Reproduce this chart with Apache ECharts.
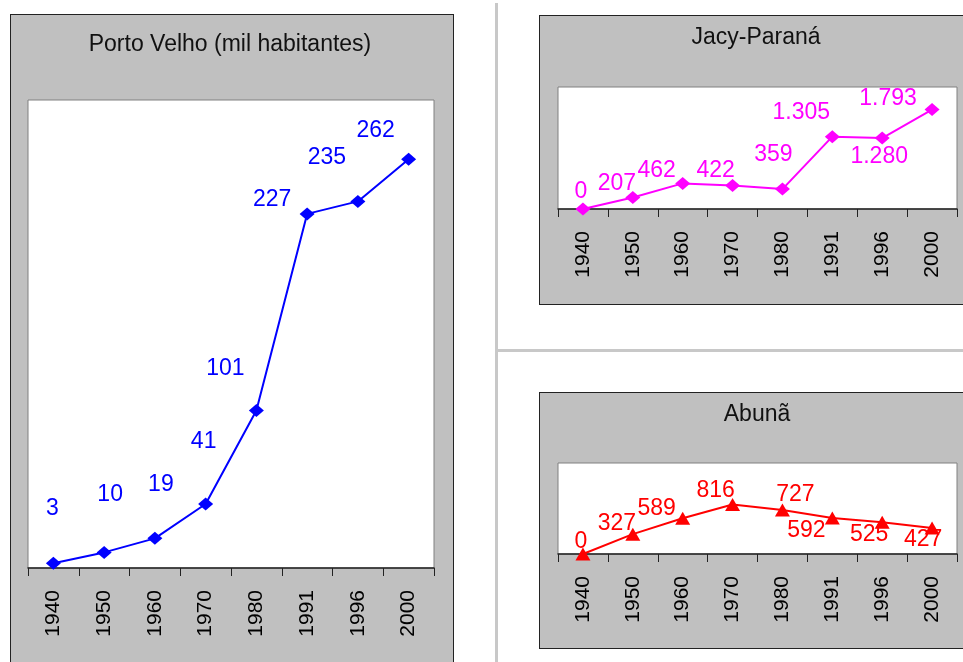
<!DOCTYPE html>
<html>
<head>
<meta charset="utf-8">
<script src="https://cdn.jsdelivr.net/npm/echarts@6/dist/echarts.min.js"></script>
<style>
  html, body { margin: 0; padding: 0; background: #fff; overflow: hidden; }
  #wrap { position: relative; width: 963px; height: 662px; }
  .panel { position: absolute; background: #c0c0c0; border: 1px solid #222; box-sizing: border-box; }
  .sep { position: absolute; background: #c8c8c8; }
  #chart { position: absolute; left: 0; top: 0; width: 963px; height: 662px; }
</style>
</head>
<body>
<div id="wrap">
  <div class="sep" style="left:495px;top:3px;width:3px;height:662px"></div>
  <div class="sep" style="left:498px;top:349px;width:470px;height:3px"></div>
  <div class="panel" style="left:10px;top:14px;width:444px;height:670px"></div>
  <div class="panel" style="left:539px;top:15px;width:440px;height:290px"></div>
  <div class="panel" style="left:539px;top:392px;width:440px;height:257px"></div>
  <div id="chart"></div>
</div>
<script>
// anos (eixo x, igual nos tres graficos)
var years = ["1940", "1950", "1960", "1970", "1980", "1991", "1996", "2000"];

// Porto Velho (mil habitantes)
var portoVelho = [3, 10, 19, 41, 101, 227, 235, 262];
// Jacy-Parana
var jacyParana = [0, 207, 462, 422, 359, 1305, 1280, 1793];
// Abuna
var abuna = [0, 327, 589, 816, 727, 592, 525, 427];

// deslocamento dos rotulos (como no Excel)
var pvOffsets = [[-1, -55], [6, -58], [6, -54], [-2, -62], [-31, -42], [-35, -14], [-31, -44], [-33, -29]];
var jpOffsets = [[-2, -17], [-16, -14], [-26, -13], [-17, -15], [-9, -34], [-31, -24], [-3, 19], [-44, -11]];
var abOffsets = [[-2, -12], [-16, -11], [-26, -10], [-17, -14], [13, -15], [-26, 13], [-13, 13], [-9, 12]];

var FONT = "Liberation Sans";

function fmt(v) {
  return String(v).replace(/\B(?=(\d{3})+(?!\d))/g, "."); // separador de milhar pt-BR
}

function withLabels(values, offsets) {
  return values.map(function (v, i) {
    return { value: v, label: { offset: offsets[i] } };
  });
}

function xAxisFor(idx) {
  return {
    type: "category",
    gridIndex: idx,
    data: years,
    boundaryGap: true,
    axisLine: { show: true, lineStyle: { color: "#222", width: 1.5 } },
    axisTick: { show: true, length: 8, alignWithLabel: false, lineStyle: { color: "#222", width: 1 } },
    axisLabel: { rotate: 90, margin: 22, interval: 0, color: "#000", fontSize: 21, fontFamily: FONT },
    splitLine: { show: false }
  };
}

function yAxisFor(idx, max) {
  return { type: "value", gridIndex: idx, min: 0, max: max, show: false, splitLine: { show: false } };
}

function seriesFor(idx, values, offsets, color, symbol) {
  return {
    type: "line",
    xAxisIndex: idx,
    yAxisIndex: idx,
    data: withLabels(values, offsets),
    symbol: symbol,
    symbolSize: [15, 13],
    showAllSymbol: true,
    animation: false,
    lineStyle: { color: color, width: 2 },
    itemStyle: { color: color },
    label: {
      show: true,
      position: "inside",
      color: color,
      fontSize: 23,
      fontFamily: FONT,
      formatter: function (p) { return fmt(p.value); }
    }
  };
}

function titleText(x, y, text) {
  return {
    type: "text",
    x: x,
    y: y,
    z: 10,
    style: {
      text: text,
      fill: "#111",
      font: "23px '" + FONT + "'",
      align: "center",
      verticalAlign: "middle",
      textAlign: "center",
      textVerticalAlign: "middle"
    }
  };
}

var chart = echarts.init(document.getElementById("chart"));
chart.setOption({
  backgroundColor: "transparent",
  animation: false,
  grid: [
    { left: 28, top: 100, width: 406, height: 468, show: true, backgroundColor: "#fff", borderColor: "#808080", borderWidth: 1 },
    { left: 558, top: 87, width: 399, height: 122, show: true, backgroundColor: "#fff", borderColor: "#808080", borderWidth: 1 },
    { left: 558, top: 463, width: 399, height: 91, show: true, backgroundColor: "#fff", borderColor: "#808080", borderWidth: 1 }
  ],
  xAxis: [xAxisFor(0), xAxisFor(1), xAxisFor(2)],
  yAxis: [yAxisFor(0, 300), yAxisFor(1, 2200), yAxisFor(2, 1500)],
  series: [
    seriesFor(0, portoVelho, pvOffsets, "#0000ff", "diamond"),
    seriesFor(1, jacyParana, jpOffsets, "#ff00ff", "diamond"),
    seriesFor(2, abuna, abOffsets, "#ff0000", "triangle")
  ],
  graphic: [
    titleText(230, 45, "Porto Velho (mil habitantes)"),
    titleText(756, 38, "Jacy-Paraná"),
    titleText(757, 415, "Abunã")
  ]
});
</script>
</body>
</html>
